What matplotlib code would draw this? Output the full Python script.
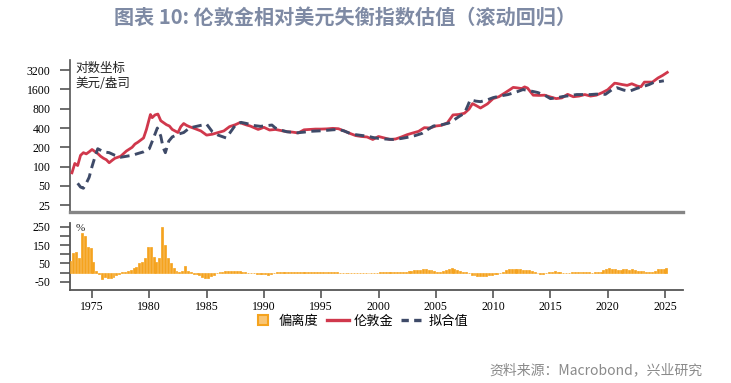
import matplotlib
matplotlib.use("Agg")
import matplotlib.pyplot as plt
from matplotlib.lines import Line2D
import numpy as np

plt.rcParams['font.family'] = ['Noto Sans CJK SC', 'DejaVu Sans']

# ---------------- data ----------------
gold_years = [1973.25, 1973.5, 1973.75, 1974.0, 1974.25, 1974.5, 1974.75, 1975.0, 1975.25, 1975.5,
              1975.75, 1976.0, 1976.25, 1976.5, 1976.75, 1977.0, 1977.5, 1978.0, 1978.5, 1978.75,
              1979.0, 1979.5, 1979.75, 1980.0, 1980.1, 1980.25, 1980.5, 1980.75, 1981.0, 1981.5,
              1981.75, 1982.0, 1982.5, 1982.75, 1983.0, 1983.25, 1983.5, 1984.0, 1984.5, 1985.0,
              1985.5, 1986.0, 1986.5, 1987.0, 1987.5, 1987.9, 1988.5, 1988.8, 1989.5, 1990.0,
              1990.5, 1991.0, 1991.5, 1992.0, 1992.5, 1993.0, 1993.5, 1994.0, 1994.5, 1995.0,
              1995.5, 1996.0, 1996.5, 1997.0, 1997.5, 1998.0, 1998.5, 1999.0, 1999.5, 2000.0,
              2000.5, 2001.0, 2001.5, 2002.0, 2002.5, 2003.0, 2003.5, 2004.0, 2004.5, 2005.0,
              2005.5, 2006.0, 2006.5, 2007.0, 2007.5, 2007.9, 2008.2, 2008.5, 2008.9, 2009.5,
              2010.0, 2010.5, 2011.0, 2011.5, 2011.75, 2012.0, 2012.5, 2012.75, 2013.0, 2013.5,
              2014.0, 2014.5, 2015.0, 2015.5, 2016.0, 2016.5, 2017.0, 2017.5, 2018.0, 2018.5,
              2019.0, 2019.5, 2020.0, 2020.6, 2020.8, 2021.3, 2021.7, 2022.1, 2022.6, 2022.9,
              2023.2, 2023.9, 2024.4, 2024.8, 2025.2]
gold_price = [80, 112, 104, 150, 165, 158, 170, 185, 172, 160,
              145, 135, 128, 115, 125, 135, 145, 175, 200, 225,
              240, 280, 380, 560, 650, 580, 640, 660, 520, 450,
              430, 380, 340, 420, 470, 440, 420, 390, 360, 310,
              320, 340, 360, 420, 450, 485, 445, 430, 380, 410,
              372, 380, 365, 350, 345, 335, 375, 380, 385, 385,
              388, 395, 390, 360, 330, 305, 295, 290, 265, 295,
              280, 265, 270, 290, 315, 335, 355, 405, 400, 430,
              440, 480, 640, 650, 680, 790, 960, 900, 820, 950,
              1150, 1230, 1400, 1600, 1720, 1700, 1650, 1750, 1680, 1300,
              1290, 1300, 1220, 1150, 1180, 1340, 1230, 1260, 1330, 1260,
              1300, 1420, 1580, 2000, 1980, 1900, 1850, 1960, 1800, 1760,
              2080, 2080, 2420, 2650, 2950]

fit_years = [1973.75, 1974.0, 1974.25, 1974.5, 1974.75, 1975.0, 1975.25, 1975.5, 1975.75, 1976.0,
             1976.5, 1977.0, 1977.5, 1978.0, 1978.5, 1979.0, 1979.5, 1980.0, 1980.3, 1980.7,
             1981.0, 1981.2, 1981.4, 1981.7, 1982.0, 1982.5, 1983.0, 1983.5, 1984.0, 1984.5,
             1985.0, 1985.5, 1986.0, 1986.7, 1987.0, 1987.5, 1988.0, 1988.5, 1989.0, 1989.7,
             1990.0, 1990.7, 1991.0, 1991.5, 1992.0, 1992.9, 1993.5, 1994.0, 1995.0, 1996.0,
             1996.5, 1997.0, 1997.5, 1998.0, 1998.6, 1999.0, 1999.5, 2000.0, 2000.5, 2001.3,
             2002.0, 2002.7, 2003.2, 2003.8, 2004.3, 2004.8, 2005.5, 2006.1, 2006.5, 2007.0,
             2007.5, 2007.8, 2008.0, 2008.5, 2008.9, 2009.5, 2010.0, 2010.5, 2011.3, 2012.0,
             2012.6, 2013.0, 2013.9, 2014.5, 2015.0, 2015.5, 2016.1, 2016.7, 2017.3, 2018.0,
             2018.5, 2019.0, 2019.8, 2020.4, 2020.8, 2021.4, 2021.9, 2022.5, 2023.2, 2023.6,
             2024.0, 2024.5, 2024.9]
fit_value = [55, 48, 46, 55, 68, 100, 140, 190, 180, 170,
             165, 150, 140, 145, 150, 160, 170, 190, 260, 400,
             300, 200, 165, 250, 290, 320, 340, 400, 420, 440,
             460, 350, 310, 280, 330, 440, 490, 470, 440, 425,
             430, 445, 400, 370, 350, 337, 345, 355, 362, 375,
             380, 360, 330, 315, 305, 300, 285, 275, 270, 265,
             275, 290, 305, 330, 380, 430, 450, 475, 520, 600,
             680, 900, 1100, 1050, 1030, 1100, 1190, 1250, 1330, 1450,
             1590, 1550, 1430, 1300, 1150, 1180, 1240, 1280, 1330, 1330,
             1330, 1350, 1340, 1600, 1700, 1560, 1500, 1650, 1800, 1900,
             2050, 2120, 2180]

# deviation (%), quarterly 1973Q1 .. 2025Q1
deviation = [
    65, 105, 111, 78,      # 1973
    218, 197, 138, 133,    # 1974
    60, 9, -8, -36,        # 1975
    -25, -30, -28, -22,    # 1976
    -12, -5, 3, 5,         # 1977
    8, 12, 25, 33,         # 1978
    50, 58, 80, 138,       # 1979
    142, 87, 58, 78,       # 1980
    247, 151, 78, 51,      # 1981
    24, 9, 5, 11,          # 1982
    38, 9, 3, -5,          # 1983
    -5, -15, -25, -31,     # 1984
    -31, -20, -10, -3,     # 1985
    3, 5, 8, 8,            # 1986
    8, 8, 10, 8,           # 1987
    5, 2, -2, -3,          # 1988
    -4, -5, -6, -5,        # 1989
    -8, -10, -6, -3,       # 1990
    2, 3, 3, 4,            # 1991
    4, 3, 3, 2,            # 1992
    2, 3, 5, 4,            # 1993
    4, 3, 3, 2,            # 1994
    2, 3, 3, 3,            # 1995
    3, 2, 1, -2,           # 1996
    -3, -2, -2, -3,        # 1997
    -2, -3, -4, -3,        # 1998
    -2, -3, -3, -2,        # 1999
    2, 3, 5, 3,            # 2000
    3, 2, 3, 3,            # 2001
    4, 5, 8, 10,           # 2002
    12, 15, 15, 18,        # 2003
    18, 16, 14, 10,        # 2004
    5, 3, 10, 15,          # 2005
    22, 25, 20, 15,        # 2006
    10, 6, 3, -2,          # 2007
    -10, -15, -18, -20,    # 2008
    -20, -18, -15, -12,    # 2009
    -8, -5, 1, 5,          # 2010
    12, 18, 20, 20,        # 2011
    20, 18, 17, 15,        # 2012
    12, 8, 3, -2,          # 2013
    -5, -8, -3, 2,         # 2014
    6, 8, 5, 3,            # 2015
    -2, -4, -2, 2,         # 2016
    3, 2, 3, 4,            # 2017
    3, 2, 1, 2,            # 2018
    4, 6, 15, 20,          # 2019
    25, 18, 22, 15,        # 2020
    12, 18, 20, 15,        # 2021
    18, 12, 10, 8,         # 2022
    8, 6, 5, 5,            # 2023
    8, 18, 20, 22,         # 2024
    25,                    # 2025
]
dev_years = [1973.125 + 0.25 * i for i in range(len(deviation))]

x_ticks = [1975, 1980, 1985, 1990, 1995, 2000, 2005, 2010, 2015, 2020, 2025]
y_ticks_top = [25, 50, 100, 200, 400, 800, 1600, 3200]
y_ticks_bot = [-50, 0, 50, 100, 150, 200, 250]

title = "图表 10: 伦敦金相对美元失衡指数估值（滚动回归）"
source = "资料来源：Macrobond，兴业研究"

# ---------------- style ----------------
RED = '#D0384C'
NAVY = '#3E4A68'
ORANGE = '#F5A31E'
SPINE = '#555555'
SERIF = ['Liberation Serif', 'DejaVu Serif']

W, H = 731, 383
fig = plt.figure(figsize=(W / 100, H / 100), dpi=100)

def box(l, t, r, b):
    return [l / W, 1 - b / H, (r - l) / W, (b - t) / H]

ax1 = fig.add_axes(box(70, 60, 683, 212))
ax2 = fig.add_axes(box(70, 223, 683, 290))

xlim = (1973.08, 2026.57)

# top panel
ax1.plot(gold_years, gold_price, color=RED, lw=2.0, zorder=3, solid_joinstyle='round')
ax1.plot(fit_years, fit_value, color=NAVY, lw=2.1, dashes=(3.2, 1.9), zorder=4)
ax1.set_yscale('log', base=2)
ax1.set_ylim(19.6, 4600)
ax1.set_xlim(*xlim)
ax1.set_yticks(y_ticks_top)
ax1.set_yticklabels([str(v) for v in y_ticks_top], fontfamily=SERIF, fontsize=8.5)
ax1.yaxis.set_minor_locator(matplotlib.ticker.NullLocator())
ax1.tick_params(axis='y', direction='out', length=7, width=1.2, color=SPINE, pad=7)
ax1.tick_params(axis='x', bottom=False, labelbottom=False)
for s in ['top', 'right']:
    ax1.spines[s].set_visible(False)
ax1.spines['left'].set_color(SPINE)
ax1.spines['left'].set_linewidth(1.2)
ax1.spines['bottom'].set_color('#858585')
ax1.spines['bottom'].set_linewidth(2.4)
ax1.text(0.009, 0.985, "对数坐标\n美元/盎司", transform=ax1.transAxes, ha='left', va='top',
         fontsize=9, color='#222222', linespacing=1.2)

# bottom panel
ax2.bar(dev_years, deviation, width=0.17, color=ORANGE, edgecolor=ORANGE, linewidth=0.5, zorder=3)
ax2.set_xlim(*xlim)
ax2.set_ylim(-94, 270)
ax2.set_yticks(y_ticks_bot)
ax2.set_yticklabels([str(v) if (v + 50) % 100 == 0 else '' for v in y_ticks_bot],
                    fontfamily=SERIF, fontsize=8.5)
ax2.set_xticks(x_ticks)
ax2.set_xticklabels([str(v) for v in x_ticks], fontfamily=SERIF, fontsize=8.5)
ax2.tick_params(axis='y', direction='out', length=7, width=1.2, color=SPINE, pad=7)
ax2.tick_params(axis='x', direction='out', length=6, width=1.2, color=SPINE, pad=2)
for s in ['top', 'right']:
    ax2.spines[s].set_visible(False)
for s in ['left', 'bottom']:
    ax2.spines[s].set_color(SPINE)
    ax2.spines[s].set_linewidth(1.3)
ax2.text(0.009, 0.98, "%", transform=ax2.transAxes, ha='left', va='top',
         fontsize=8, fontfamily=SERIF, color='#222222')

# legend
handles = [Line2D([0], [0], marker='s', linestyle='none', markersize=7,
                  markerfacecolor='#F9C574', markeredgecolor=ORANGE, markeredgewidth=1.5),
           Line2D([0], [0], color=RED, lw=2.4),
           Line2D([0], [0], color=NAVY, lw=2.4, dashes=(2.2, 1.6))]
fig.legend(handles, ["偏离度", "伦敦金", "拟合值"], loc='center', bbox_to_anchor=(360 / W, 1 - 321 / H),
           ncol=3, frameon=False, fontsize=9.5, handlelength=1.7, handletextpad=0.35,
           columnspacing=0.6, handleheight=0.8)

fig.text(345 / W, 1 - 17 / H, title, ha='center', va='center', fontsize=14.5, fontweight='bold',
         color='#7E8AA4')
fig.text(702 / W, 1 - 370 / H, source, ha='right', va='center', fontsize=10, color='#8A8A8A')

fig.savefig('out.png', dpi=100)
